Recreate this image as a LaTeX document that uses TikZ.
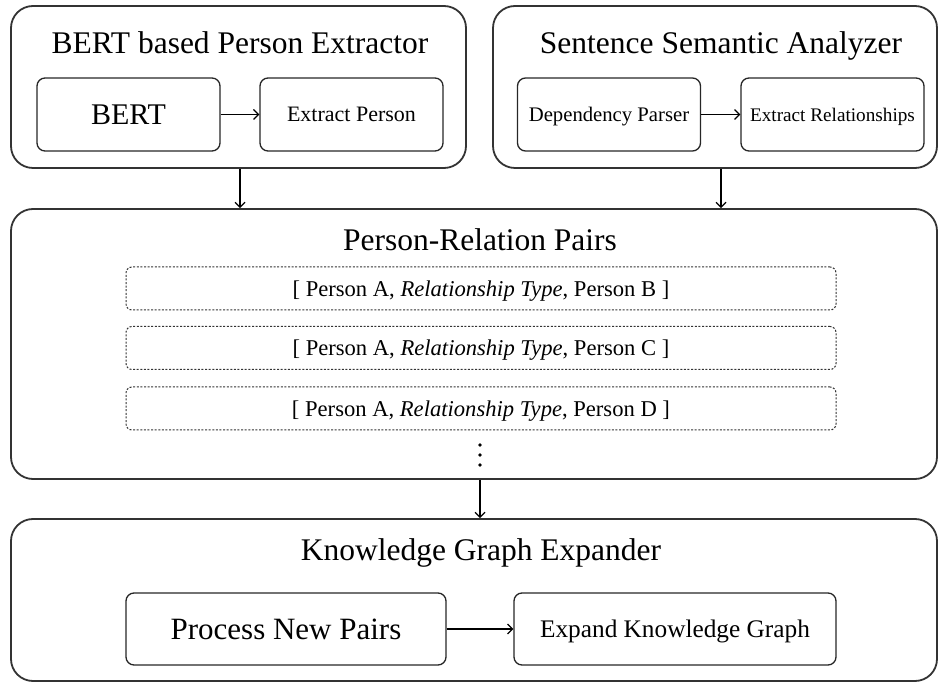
\documentclass[tikz,border=0pt]{standalone}
\usepackage{fontspec}
\setmainfont{Liberation Serif}
\usetikzlibrary{arrows.meta,positioning,calc}

\begin{document}
\begin{tikzpicture}[x=1pt,y=-1pt,>={Straight Barb[length=5pt,width=10pt]},
  group/.style 2 args={draw=black!80,line width=1.8pt,rounded corners=22pt,minimum width=#1,minimum height=#2,inner sep=0pt},
  title/.style={anchor=base,font=\fontsize{31.5}{36}\selectfont},
  stage/.style={draw=black!85,line width=1.3pt,rounded corners=8pt,minimum width=183pt,minimum height=73pt,inner sep=0pt,text depth=0pt},
  pair/.style={draw=black!80,line width=1pt,dash pattern=on 2pt off 1.6pt,rounded corners=6pt,minimum width=710pt,minimum height=43pt,inner sep=0pt,text depth=0pt,font=\fontsize{22.6}{27}\selectfont},
  link/.style={->,line width=1.2pt}]
  \useasboundingbox (0,0) rectangle (938,684);
  \node[group={455pt}{162pt}] (bpe) at (238.5,87) {};
  \node[group={444pt}{162pt}] (ssa) at (715,87) {};
  \node[group={926pt}{270pt}] (prp) at (474,344) {};
  \node[group={926pt}{162pt}] (kge) at (474,600) {};
  \node[title] (bpet) at (240,54) {BERT based Person Extractor};
  \node[title] (ssat) at (721,54) {Sentence Semantic Analyzer};
  \node[title] (prpt) at (480,251) {Person-Relation Pairs};
  \node[title] (kget) at (481,561) {Knowledge Graph Expander};
  \node[stage,font=\fontsize{30}{36}\selectfont] (bert) at (128.5,114.5) {BERT};
  \node[stage,font=\fontsize{22}{26}\selectfont] (ep) at (351.5,114.5) {Extract Person};
  \node[stage,font=\fontsize{20.7}{25}\selectfont] (dp) at (609,114.5) {Dependency Parser};
  \node[stage,font=\fontsize{19.2}{23}\selectfont] (er) at (832.5,114.5) {Extract Relationships};
  \node[stage,minimum width=320pt,minimum height=72pt,font=\fontsize{31}{36}\selectfont] (pnp) at (286,629) {Process New Pairs};
  \node[stage,minimum width=322pt,minimum height=72pt,font=\fontsize{25.3}{30}\selectfont] (ekg) at (675,629) {Expand Knowledge Graph};
  \foreach \y/\p [count=\i] in {288.5/B,348/C,408.5/D}
    \node[pair] (p\i) at (481,\y) {[ Person A, \textit{Relationship Type}, Person \p\ ]};
  \foreach \y in {445,455,465}
    \fill (480,\y) circle (1.8pt);
  \draw[link] (bert) -- (ep);
  \draw[link] (dp) -- (er);
  \draw[link] (pnp) -- (ekg);
  \draw[link] (bpet.base |- bpe.south) -- (bpet.base |- prp.north);
  \draw[link] (ssat.base |- ssa.south) -- (ssat.base |- prp.north);
  \draw[link] (prpt.base |- prp.south) -- (prpt.base |- kge.north);
\end{tikzpicture}
\end{document}
